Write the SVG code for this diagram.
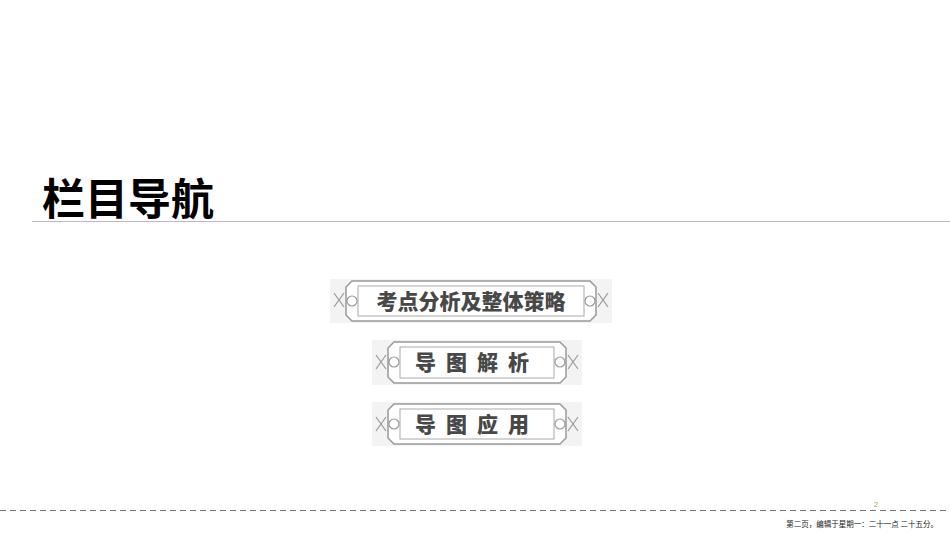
<svg xmlns="http://www.w3.org/2000/svg" width="950" height="535" viewBox="0 0 950 535">
<style>
.fr{fill:#fff;stroke:#999;stroke-width:1.5}
.in{fill:none;stroke:#aaa;stroke-width:1}
.orn{fill:none;stroke:#999;stroke-width:1.2}
.bt{font-family:"Noto Sans CJK SC",sans-serif;font-weight:900;font-size:21px;fill:#484848;text-anchor:middle}
</style>
<rect width="950" height="535" fill="#fff"/>
<text x="42" y="215" font-family="Noto Sans CJK SC,sans-serif" font-weight="700" font-size="43" fill="#000">栏目导航</text>
<line x1="32" y1="221.5" x2="950" y2="221.5" stroke="#c4b2d6" stroke-width="1"/>
<g id="banner1">
<rect x="330" y="279" width="282" height="44" fill="#f3f3f3"/>
<path class="fr" d="M352 281 H590 L596 287 V315 L590 321 H352 L346 315 V287 Z"/>
<rect class="in" x="358" y="286" width="226" height="30"/>
<path class="orn" d="M334 293 L344 307 M344 293 L334 307 M608 293 L598 307 M598 293 L608 307"/>
<circle class="orn" cx="352" cy="301" r="5"/><circle class="orn" cx="590" cy="301" r="5"/>
<text class="bt" x="471" y="309">考点分析及整体策略</text>
</g>
<g id="banner2">
<rect x="372" y="340" width="210" height="45" fill="#f3f3f3"/>
<path class="fr" d="M394 342 H560 L566 348 V377 L560 383 H394 L388 377 V348 Z"/>
<rect class="in" x="400" y="347" width="154" height="31"/>
<path class="orn" d="M376 355 L386 369 M386 355 L376 369 M578 355 L568 369 M568 355 L578 369"/>
<circle class="orn" cx="394" cy="362" r="5"/><circle class="orn" cx="560" cy="362" r="5"/>
<text class="bt" x="477" y="370" letter-spacing="10">导图解析</text>
</g>
<g id="banner3">
<rect x="372" y="402" width="210" height="44" fill="#f3f3f3"/>
<path class="fr" d="M394 404 H560 L566 410 V438 L560 444 H394 L388 438 V410 Z"/>
<rect class="in" x="400" y="409" width="154" height="30"/>
<path class="orn" d="M376 417 L386 431 M386 417 L376 431 M578 417 L568 431 M568 417 L578 431"/>
<circle class="orn" cx="394" cy="424" r="5"/><circle class="orn" cx="560" cy="424" r="5"/>
<text class="bt" x="477" y="432" letter-spacing="10">导图应用</text>
</g>
<text x="876" y="507" font-family="Liberation Sans,sans-serif" font-size="8" fill="#b5a84a" text-anchor="middle">2</text>
<line x1="0" y1="510.5" x2="950" y2="510.5" stroke="#777" stroke-width="1" stroke-dasharray="6,4"/>
<text x="938" y="527" font-family="Noto Sans CJK SC,sans-serif" font-size="7.5" fill="#222" text-anchor="end">第二页，编辑于星期一：二十一点 二十五分。</text>
</svg>
